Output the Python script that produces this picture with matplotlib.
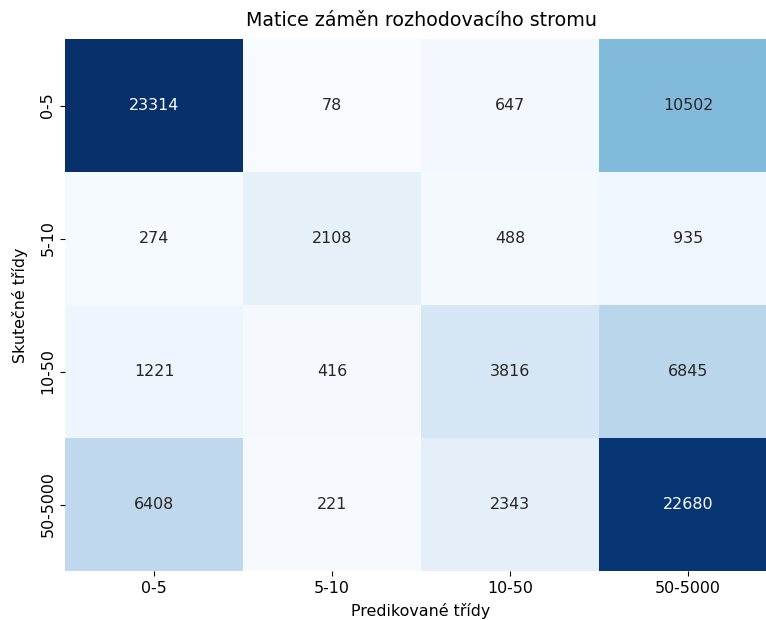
import numpy as np
import matplotlib
matplotlib.use('Agg')
import matplotlib.pyplot as plt
import seaborn as sns

labels = ['0-5', '5-10', '10-50', '50-5000']
row_0_5 = [23314, 78, 647, 10502]
row_5_10 = [274, 2108, 488, 935]
row_10_50 = [1221, 416, 3816, 6845]
row_50_5000 = [6408, 221, 2343, 22680]

cm = np.array([row_0_5, row_5_10, row_10_50, row_50_5000])

fs = 11.4
fig = plt.figure(figsize=(7.66, 6.2), dpi=100)
ax = fig.add_axes([65 / 766, 1 - 571 / 620, 712 / 766, 532 / 620])
sns.heatmap(cm, annot=True, fmt='d', cmap='Blues', cbar=False,
            xticklabels=labels, yticklabels=labels, ax=ax,
            annot_kws={'fontsize': fs})
ax.tick_params(labelsize=fs)
ax.set_title('Matice záměn rozhodovacího stromu', fontsize=13.7, pad=9)
ax.set_xlabel('Predikované třídy', fontsize=fs, labelpad=5)
ax.set_ylabel('Skutečné třídy', fontsize=fs, labelpad=9)
fig.savefig('out.png', dpi=100)
